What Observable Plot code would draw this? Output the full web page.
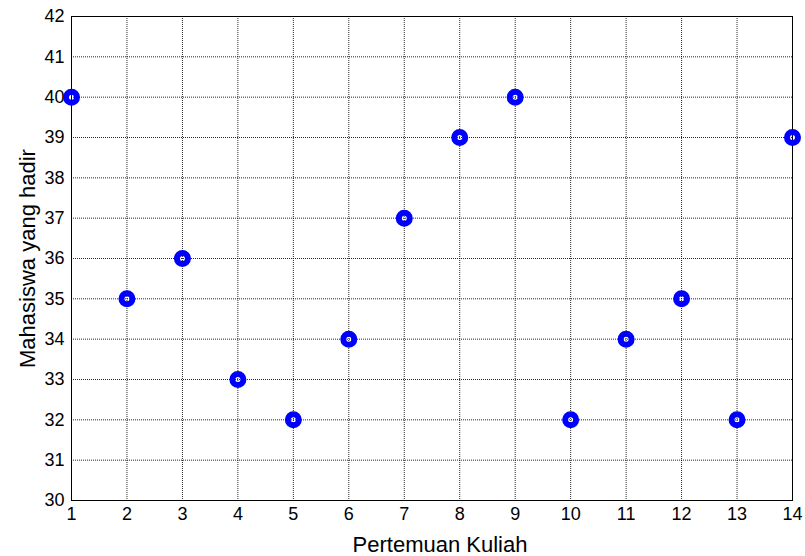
<!DOCTYPE html>
<html>
<head>
<meta charset="utf-8">
<script src="https://cdn.jsdelivr.net/npm/d3@7"></script>
<script src="https://cdn.jsdelivr.net/npm/@observablehq/plot@0.6"></script>
<style>
  html, body { margin: 0; padding: 0; background: #fff; }
</style>
</head>
<body>
<div id="chart"></div>
<script>
const pertemuan = [1, 2, 3, 4, 5, 6, 7, 8, 9, 10, 11, 12, 13, 14];
const hadir = [40, 35, 36, 33, 32, 34, 37, 39, 40, 32, 34, 35, 32, 39];
const xTicks = [1, 2, 3, 4, 5, 6, 7, 8, 9, 10, 11, 12, 13, 14];
const yTicks = [30, 31, 32, 33, 34, 35, 36, 37, 38, 39, 40, 41, 42];
const xLabel = "Pertemuan Kuliah";
const yLabel = "Mahasiswa yang hadir";

const data = pertemuan.map((p, i) => ({p, h: hadir[i]}));

const chart = Plot.plot({
  width: 805,
  height: 556,
  marginLeft: 71,
  marginRight: 13,
  marginTop: 16,
  marginBottom: 56,
  style: {fontFamily: "'Liberation Sans', Arial, sans-serif", fontSize: "18px", color: "#000", background: "#fff"},
  x: {domain: [1, 14]},
  y: {domain: [30, 42]},
  marks: [
    Plot.gridX(xTicks, {stroke: "#000", strokeOpacity: 0.85, strokeDasharray: "1,1"}),
    Plot.gridY(yTicks, {stroke: "#000", strokeOpacity: 0.85, strokeDasharray: "1,1"}),
    Plot.frame({stroke: "#000", strokeWidth: 1}),
    Plot.axisX(xTicks, {tickSize: 0, tickPadding: 7, label: null, fontSize: 18}),
    Plot.axisY(yTicks, {tickSize: 0, tickPadding: 7, label: null, fontSize: 18}),
    Plot.text([xLabel], {frameAnchor: "bottom", dx: 8, dy: 51, lineAnchor: "bottom", textAnchor: "middle", fontSize: 22, fill: "#000"}),
    Plot.text([yLabel], {frameAnchor: "left", dx: -44, rotate: -90, lineAnchor: "middle", textAnchor: "middle", fontSize: 22, fill: "#000"}),
    Plot.dot(data, {x: "p", y: "h", r: 5.5, stroke: "#0000ff", strokeWidth: 6, fill: "none"})
  ]
});
document.getElementById("chart").appendChild(chart);
</script>
</body>
</html>
